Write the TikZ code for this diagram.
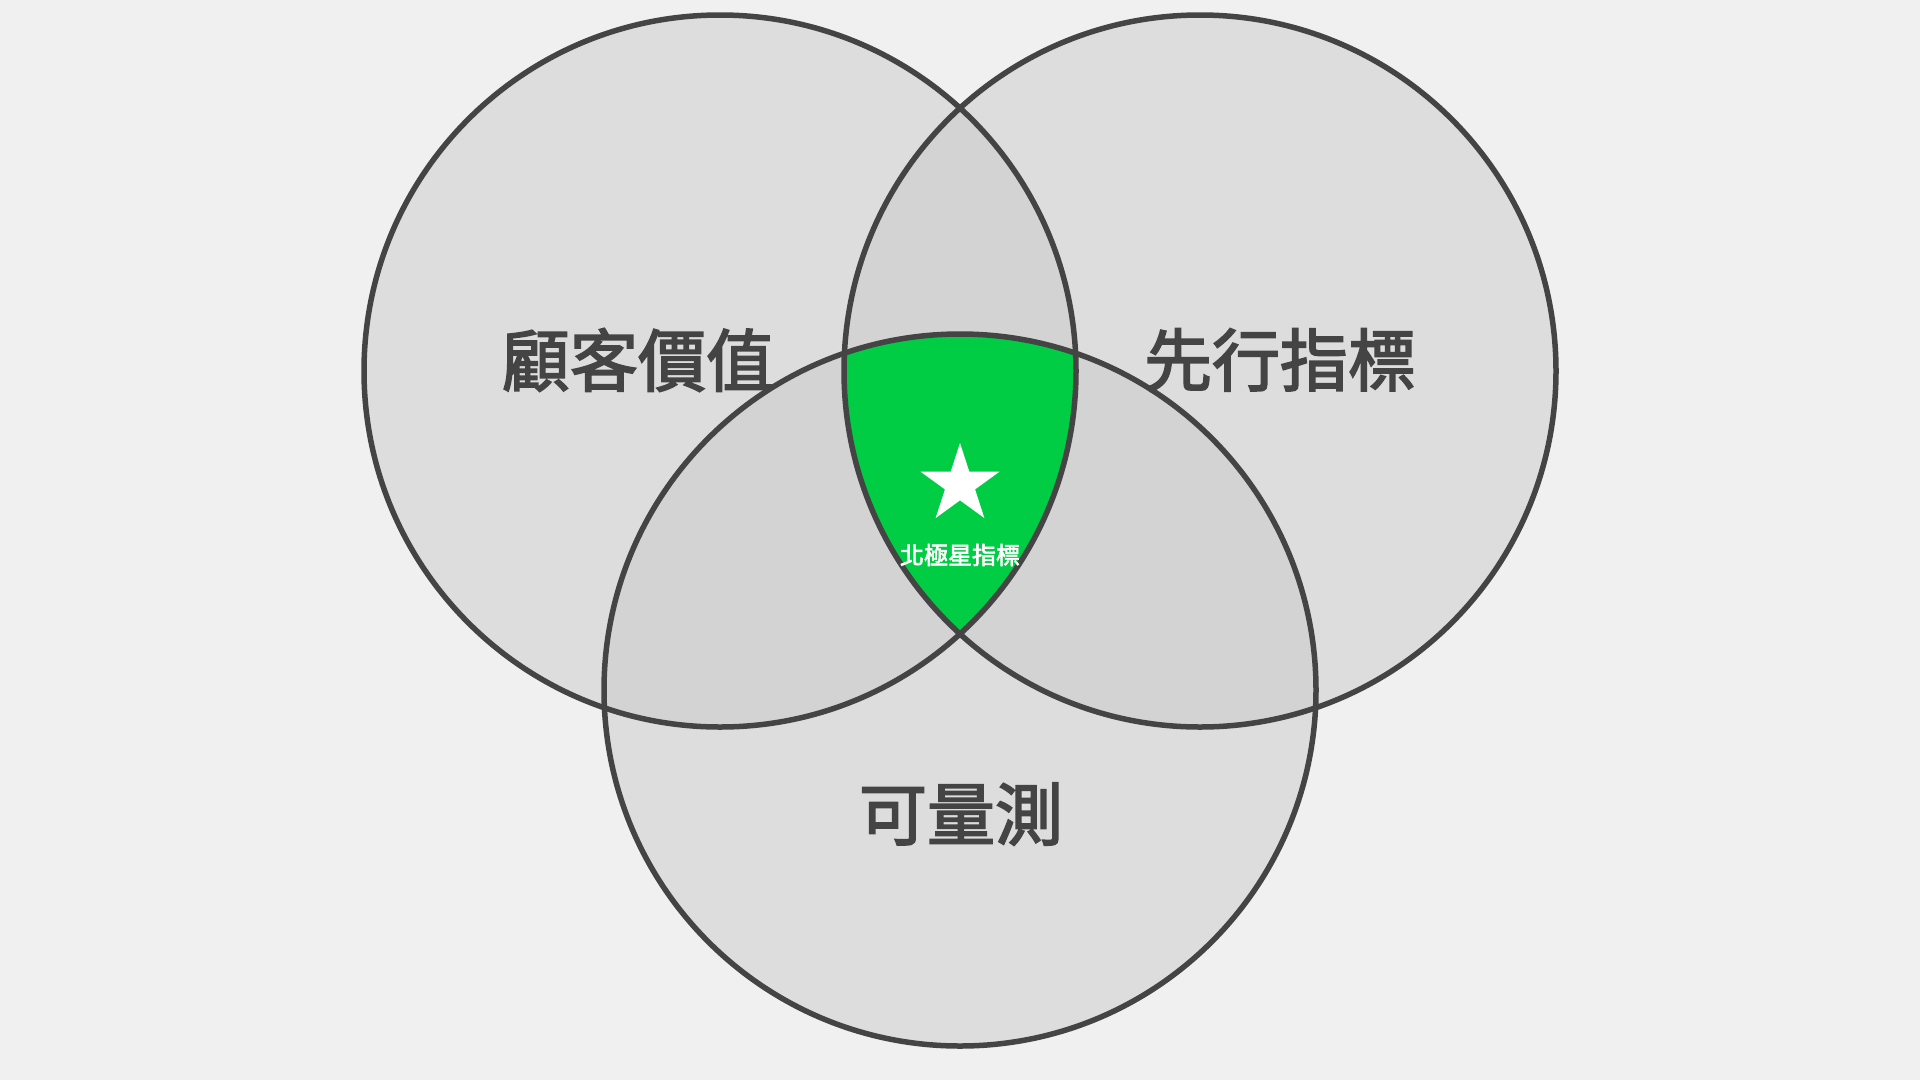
\documentclass[tikz,border=0pt]{standalone}
\usepackage{fontspec}
\newfontfamily\cjk{Noto Sans CJK TC}[FakeBold=2.5]
\usetikzlibrary{shapes.geometric}
\definecolor{bgcol}{HTML}{F0F0F0}
\definecolor{setcol}{HTML}{DDDDDD}
\definecolor{pairrcol}{HTML}{D3D3D3}
\definecolor{starcol}{HTML}{00CC44}
\definecolor{inkcol}{HTML}{444444}
\tikzset{
  setlabel/.style={font=\cjk\fontsize{68}{68}\selectfont, text=inkcol, inner sep=0pt},
  setline/.style={draw=inkcol, line width=5.5pt},
}
\begin{document}
\begin{tikzpicture}[x=1pt, y=-1pt]
    % Background and frame of the page
    \useasboundingbox (0,0) rectangle (1920,1080);
    \fill[bgcol] (0,0) rectangle (1920,1080);

    % Centres of the three sets
    \coordinate (value) at (720,371);
    \coordinate (lead) at (1200,371);
    \coordinate (measure) at (960,690);
    \def\rad{356}

    % Fill the sets
    \foreach \c in {value, lead, measure}
      \fill[setcol] (\c) circle (\rad);

    % Pairwise overlaps
    \begin{scope}
      \clip (value) circle (\rad);
      \fill[pairrcol] (lead) circle (\rad);
      \fill[pairrcol] (measure) circle (\rad);
    \end{scope}
    \begin{scope}
      \clip (lead) circle (\rad);
      \fill[pairrcol] (measure) circle (\rad);
    \end{scope}

    % Triple overlap: the north star
    \begin{scope}
      \clip (value) circle (\rad);
      \clip (lead) circle (\rad);
      \fill[starcol] (measure) circle (\rad);
    \end{scope}

    % Outlines
    \foreach \c in {value, lead, measure}
      \draw[setline] (\c) circle (\rad);

    % Labels of the sets
    \node[setlabel] (valuelabel) at (638,360) {顧客價值};
    \node[setlabel] (leadlabel) at (1280,360) {先行指標};
    \node[setlabel] (measurelabel) at (961,814) {可量測};

    % Star and its caption
    \node[star, star points=5, star point ratio=2.618, fill=white,
      minimum size=83pt, inner sep=0pt] (star) at (960,484.5) {};
    \node[font=\cjk\fontsize{24}{24}\selectfont, text=white,
      inner sep=0pt] (northstar) at (960,555) {北極星指標};
  \end{tikzpicture}
\end{document}
